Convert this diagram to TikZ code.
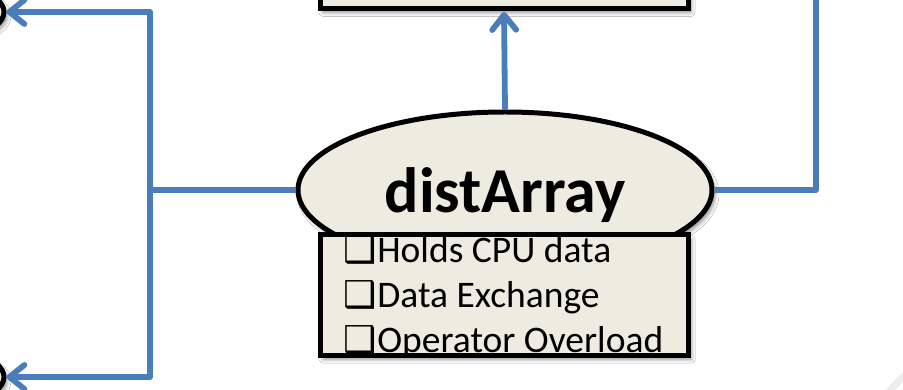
\documentclass[tikz,border=0pt]{standalone}
\usepackage{fontspec}
\setmainfont{Carlito}
\newfontfamily\dv{DejaVu Sans}
\usetikzlibrary{shapes.geometric,arrows.meta,shadows.blur}
\definecolor{wireblue}{HTML}{4A7EBB}
\definecolor{tanfill}{HTML}{EEECE1}
\tikzset{
  shadebox/.style={fill=tanfill, blur shadow={shadow xshift=3pt, shadow yshift=-4pt, shadow blur radius=4pt, shadow opacity=45}},
  outline/.style={draw=black, line width=5pt},
  wire/.style={draw=wireblue, line width=5.8pt, line join=round},
  barb/.style={-{Straight Barb[length=15pt,width=24pt,line cap=round,line join=round]}},
  itemtext/.style={anchor=base west, inner sep=0pt, font=\fontsize{37.5}{37.5}\selectfont},
}
\newcommand{\chkbox}{{\dv\fontsize{37}{37}\selectfont ❑}\hspace{1pt}}
\begin{document}
\begin{tikzpicture}[x=1pt,y=1pt]
\useasboundingbox (0,0) rectangle (903,390);
\fill[white] (0,0) rectangle (903,390);
% faint decoration at bottom right
\draw[black!7, line width=7pt] (915,25) -- (875,-15);
% off-canvas neighbours
\node[ellipse, outline, shadebox, minimum width=200pt, minimum height=70pt, inner sep=0pt] (tl) at (-96,378) {};
\node[ellipse, outline, shadebox, minimum width=200pt, minimum height=70pt, inner sep=0pt] (bl) at (-96,13) {};
% top box
\node[rectangle, outline, shadebox, minimum width=368pt, minimum height=100pt, inner sep=0pt, anchor=south] (top) at (504,379) {};
% ellipse
\node[ellipse, outline, shadebox, minimum width=414pt, minimum height=156pt, inner sep=0pt] (dist) at (505,200) {};
\node[anchor=base, inner sep=0pt, font=\bfseries\fontsize{64}{64}\selectfont] (distlabel) at (505,177) {distArray};
% list box
\node[rectangle, shadebox, minimum width=368pt, minimum height=120pt, inner sep=0pt, anchor=north west] (list) at (320,155) {};
\begin{scope}
  \clip (list.south west) rectangle (list.north east);
  \node[itemtext] (l1) at (343,127) {\chkbox Holds CPU data};
  \node[itemtext] (l2) at (343,82) {\chkbox Data Exchange};
  \node[itemtext] (l3) at (343,37) {\chkbox Operator Overload};
\end{scope}
\draw[outline] (list.south west) rectangle (list.north east);
% connectors
\coordinate (j) at (150,200);
\coordinate (rtop) at (816,400);
\draw[wire, barb, shorten >=1pt] (dist.north) -- (top.south);
\draw[wire] (dist.west) -- (j);
\draw[wire, barb] (j) |- (tl.east);
\draw[wire, barb] (j) |- (bl.east);
\draw[wire] (dist.east) -| (rtop);
\end{tikzpicture}
\end{document}
